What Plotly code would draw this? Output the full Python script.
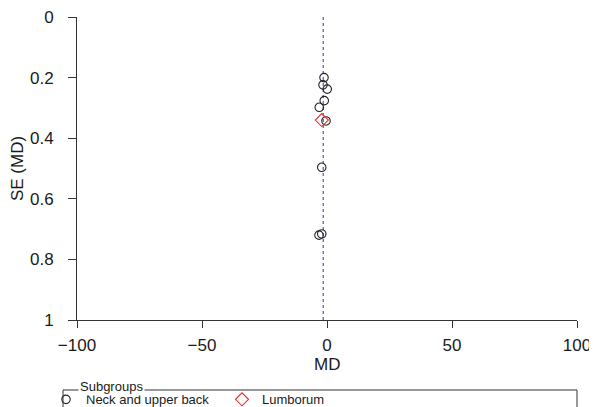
import plotly.graph_objects as go

# Data
neck_md = [-1.2, -1.6, 0.1, -1.1, -3.1, -0.4, -2.1, -3.2, -2.1]
neck_se = [0.200, 0.224, 0.238, 0.276, 0.298, 0.343, 0.496, 0.720, 0.716]
lumb_md = [-2.1]
lumb_se = [0.340]
pooled_md = -1.5
se_range = [0, 1]
x_ticks = [-100, -50, 0, 50, 100]
x_tick_labels = ["\u2212100", "\u221250", "0", "50", "100"]
y_ticks = [0, 0.2, 0.4, 0.6, 0.8, 1]
y_tick_labels = ["0", "0.2", "0.4", "0.6", "0.8", "1"]

FONT = "Liberation Sans, Arial, Helvetica, sans-serif"
AX = "#333333"
TXT = "#1a1a1a"

fig = go.Figure()
fig.add_trace(go.Scatter(
    x=[pooled_md, pooled_md], y=se_range, mode="lines",
    line=dict(color="#5c5cf0", width=1.3, dash="3px,3px"),
    showlegend=False, hoverinfo="skip"))
fig.add_trace(go.Scatter(
    x=neck_md, y=neck_se, mode="markers", name="Neck and upper back",
    marker=dict(symbol="circle-open", size=8.5, color="#222222",
                line=dict(width=1.1, color="#222222"))))
fig.add_trace(go.Scatter(
    x=lumb_md, y=lumb_se, mode="markers", name="Lumborum",
    marker=dict(symbol="diamond-open", size=10, color="#e03030",
                line=dict(width=1.1, color="#e03030"))))

# Legend frame (box with title breaking its top edge)
fig.add_shape(type="rect", xref="paper", yref="paper",
              x0=-0.028, x1=1.0, y0=-0.34, y1=-0.231,
              line=dict(color=AX, width=1), fillcolor="rgba(0,0,0,0)")
fig.add_annotation(xref="paper", yref="paper", x=0.002, y=-0.218,
                   xanchor="left", yanchor="middle", text="Subgroups",
                   showarrow=False, bgcolor="white", borderpad=1,
                   font=dict(family=FONT, size=13, color=TXT))
# x-axis title
fig.add_annotation(xref="paper", yref="paper", x=0.5, y=-0.1485,
                   xanchor="center", yanchor="middle", text="MD",
                   showarrow=False, font=dict(family=FONT, size=17, color=TXT))

# The page body adds an 8px offset; size and margins compensate for it
fig.update_layout(
    width=589, height=399,
    margin=dict(l=69, r=20, t=9, b=87, autoexpand=False),
    paper_bgcolor="white", plot_bgcolor="white",
    font=dict(family=FONT, size=17, color=TXT),
    showlegend=True,
    legend=dict(orientation="h", x=-0.062, y=-0.262, xanchor="left",
                yanchor="middle", font=dict(family=FONT, size=13, color=TXT),
                bgcolor="rgba(0,0,0,0)", itemwidth=30,
                entrywidth=131, entrywidthmode="pixels"),
    xaxis=dict(range=[-100, 100], tickvals=x_ticks, ticktext=x_tick_labels,
               showgrid=False, zeroline=False, showline=True, linecolor=AX,
               linewidth=1, ticks="outside", ticklen=7, tickcolor=AX,
               ticklabelstandoff=3, automargin=True, ticklabeloverflow="allow"),
    yaxis=dict(range=[1, 0], tickvals=y_ticks, ticktext=y_tick_labels,
               showgrid=False, zeroline=False, showline=True, linecolor=AX,
               linewidth=1, ticks="outside", ticklen=8, tickcolor=AX,
               ticklabelstandoff=11, automargin=True, ticklabeloverflow="allow",
               title=dict(text="SE (MD)", standoff=2, font=dict(size=17))),
)

fig.write_html("out.html")
